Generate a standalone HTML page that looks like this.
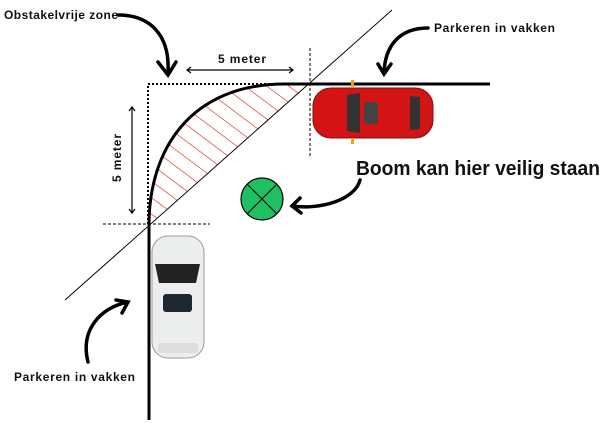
<!DOCTYPE html>
<html><head><style>
html,body{margin:0;padding:0;background:#fff;}
svg{display:block;}
text{font-family:"Liberation Sans",sans-serif;font-weight:bold;fill:#111;}
</style></head><body>
<svg width="605" height="433" viewBox="0 0 605 433" xmlns="http://www.w3.org/2000/svg">
<defs>
<clipPath id="hc"><path d="M149,225 C149,150 190,84 285,84 L310,84 Z"/></clipPath>
</defs>
<!-- hatch -->
<g clip-path="url(#hc)" stroke="#f05050" stroke-width="0.8">
<path d="M-200,0 L100,225 M-178,0 L122,225 M-156,0 L144,225 M-134,0 L166,225 M-112,0 L188,225 M-90,0 L210,225 M-68,0 L232,225 M-46,0 L254,225 M-24,0 L276,225 M-2,0 L298,225 M20,0 L320,225 M42,0 L342,225 M64,0 L364,225 M86,0 L386,225 M108,0 L408,225 M130,0 L430,225 M152,0 L452,225 M174,0 L474,225 M196,0 L496,225 M218,0 L518,225 M240,0 L540,225"/>
</g>
<!-- diagonal -->
<line x1="65" y1="300" x2="392" y2="10" stroke="#000" stroke-width="1"/>
<!-- dotted box -->
<path d="M148,224 L148,84 L310,84" fill="none" stroke="#000" stroke-width="2" stroke-dasharray="2,2"/>
<line x1="103" y1="224" x2="210" y2="224" stroke="#000" stroke-width="1" stroke-dasharray="3,2"/>
<line x1="310" y1="48" x2="310" y2="156" stroke="#000" stroke-width="1" stroke-dasharray="3,2"/>
<!-- road -->
<path d="M149,420 L149,225 C149,150 190,84 285,84 L490,84" fill="none" stroke="#000" stroke-width="3"/>
<!-- dimension arrows -->
<g stroke="#000" stroke-width="1.2" fill="none">
<path d="M187,70 L293,70 M191,67 L187,70 L191,73 M289,67 L293,70 L289,73"/>
<path d="M132,107 L132,213 M129,111 L132,107 L135,111 M129,209 L132,213 L135,209"/>
</g>
<text x="218" y="63" font-size="12" textLength="48">5 meter</text>
<text transform="translate(121,182) rotate(-90)" font-size="12" textLength="48">5 meter</text>
<!-- labels -->
<text x="4" y="19" font-size="12" textLength="114">Obstakelvrije zone</text>
<text x="434" y="32" font-size="12" textLength="121">Parkeren in vakken</text>
<text x="14" y="381" font-size="12" textLength="121">Parkeren in vakken</text>
<text x="356" y="175" font-size="20" textLength="244" lengthAdjust="spacingAndGlyphs">Boom kan hier veilig staan</text>
<!-- curved arrows -->
<g stroke="#000" stroke-width="3.5" fill="none" stroke-linecap="round">
<path d="M118,15 C150,15 170,35 168,72"/>
<path d="M158,62 L168,75 L176,62"/>
<path d="M428,28 C400,28 385,45 384,73"/>
<path d="M378,64 L384,74 L391,64"/>
<path d="M360,180 C355,200 320,210 292,206"/>
<path d="M300,198 L292,206 L301,213"/>
<path d="M88,362 C80,330 100,308 128,302"/>
<path d="M116,300 L128,302 L122,313"/>
</g>
<!-- tree -->
<circle cx="262" cy="199" r="21" fill="#1fc062" stroke="#000" stroke-width="1.2"/>
<path d="M247,184 L277,214 M277,184 L247,214" stroke="#000" stroke-width="1"/>
<!-- red car -->
<g>
<rect x="313" y="88" width="120" height="50" rx="18" fill="#d21414"/>
<rect x="313" y="88" width="120" height="50" rx="18" fill="none" stroke="#8a0a0a" stroke-width="1"/>
<path d="M347,95 L360,93 L360,133 L347,131 Z" fill="#333"/>
<rect x="364" y="102" width="14" height="22" rx="3" fill="#444"/>
<path d="M410,96 L420,97 L420,129 L410,130 Z" fill="#333"/>
<rect x="351" y="80" width="3" height="8" fill="#f0a020"/>
<rect x="351" y="138" width="3" height="6" fill="#f0a020"/>
</g>
<!-- white car -->
<g>
<rect x="152" y="236" width="52" height="122" rx="16" fill="#eceeee" stroke="#999" stroke-width="1"/>
<path d="M155,264 L200,264 L196,283 L159,283 Z" fill="#222"/>
<rect x="163" y="294" width="29" height="18" rx="3" fill="#1e2830"/>
<rect x="158" y="343" width="40" height="10" rx="3" fill="#ddd"/>
</g>
</svg>
</body></html>
